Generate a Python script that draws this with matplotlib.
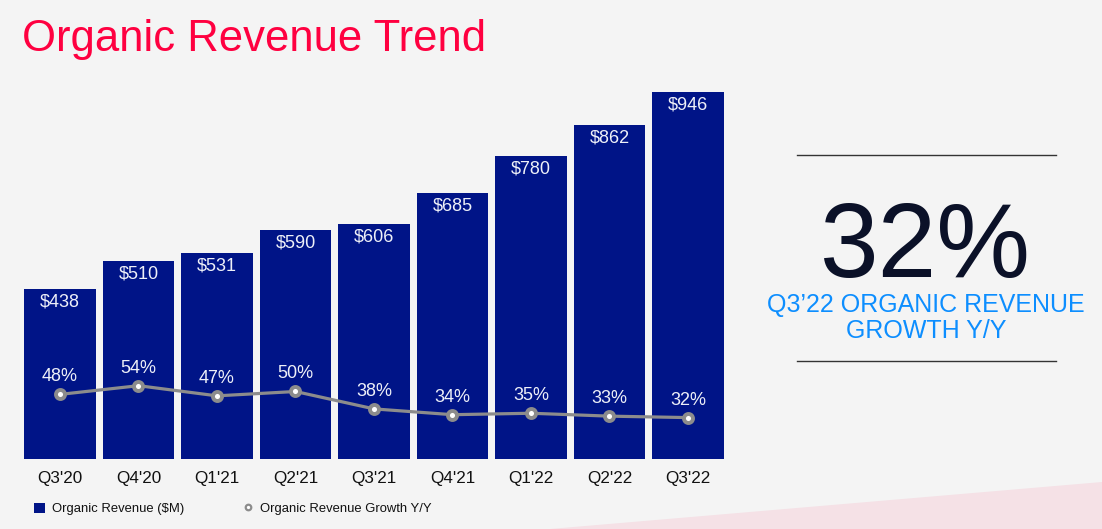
import matplotlib.pyplot as plt
from matplotlib.lines import Line2D
from matplotlib.patches import Patch, Polygon

quarters = ["Q3'20", "Q4'20", "Q1'21", "Q2'21", "Q3'21", "Q4'21", "Q1'22", "Q2'22", "Q3'22"]
revenue = [438, 510, 531, 590, 606, 685, 780, 862, 946]
growth = [48, 54, 47, 50, 38, 34, 35, 33, 32]

NAVY = "#001487"
GRAY = "#8c8c8c"
BG = "#f4f4f4"
W, H = 1102, 529

plt.rcParams["font.family"] = ["Liberation Sans", "DejaVu Sans"]

fig = plt.figure(figsize=(W / 100, H / 100), dpi=100, facecolor=BG)

# decorative pink strip bottom right
fig.patches.append(Polygon([(550 / W, 0), (1.0, (H - 482) / H), (1.0, 0)],
                           closed=True, transform=fig.transFigure,
                           facecolor="#f5e1e6", edgecolor="none", zorder=0))

ax = fig.add_axes([20.75 / W, 70 / H, 706.5 / W, 388 / H])
ax.set_facecolor("none")
x = range(len(quarters))
ax.bar(x, revenue, width=0.917, color=NAVY, zorder=2)
ax.set_xlim(-0.5, len(quarters) - 0.5)
ax.set_ylim(0, 1000)
ax.set_xticks(list(x))
ax.set_xticklabels(quarters, fontsize=12.3, color="#111111")
ax.tick_params(axis="x", length=0, pad=9)
ax.set_yticks([])
for s in ax.spines.values():
    s.set_visible(False)
for i, v in enumerate(revenue):
    ax.annotate(f"${v}", (i, v), xytext=(0, -9.4), textcoords="offset points",
                ha="center", va="center", fontsize=13, color="#eef0f8", zorder=5)

ax2 = ax.twinx()
ax2.set_ylim(3.45, 271)
ax2.plot(list(x), growth, color=GRAY, lw=2.3, marker="o", ms=6.5, mfc="white",
         mec=GRAY, mew=2.8, zorder=4)
ax2.set_yticks([])
for s in ax2.spines.values():
    s.set_visible(False)
for i, g in enumerate(growth):
    ax2.annotate(f"{g}%", (i, g), xytext=(0, 12.6), textcoords="offset points",
                 ha="center", va="center", fontsize=13, color="#eef0f8", zorder=5)

# title
fig.text(22 / W, (H - 51) / H, "Organic Revenue Trend", fontsize=31.4,
         color="#ff0040", ha="left", va="baseline")

# right panel
for yy in (155, 361):
    fig.add_artist(Line2D([797 / W, 1056 / W], [(H - yy) / H] * 2,
                          color="#333333", lw=1, transform=fig.transFigure))
fig.text(925 / W, (H - 277) / H, "32%", fontsize=76, color="#0b1128",
         ha="center", va="baseline")
fig.text(926 / W, (H - 312) / H, "Q3\u201922 ORGANIC REVENUE", fontsize=18,
         color="#0d8eff", ha="center", va="baseline")
fig.text(926 / W, (H - 338) / H, "GROWTH Y/Y", fontsize=18,
         color="#0d8eff", ha="center", va="baseline")

# legend
handles = [
    Patch(facecolor=NAVY, edgecolor="none"),
    Line2D([], [], ls="none", marker="o", ms=4, mfc="white", mec=GRAY, mew=1.6),
]
fig.legend(handles, ["Organic Revenue ($M)", "Organic Revenue Growth Y/Y"],
           loc="center left", bbox_to_anchor=(34 / W, 20 / H), ncol=2,
           frameon=False, fontsize=9.4, borderpad=0, borderaxespad=0,
           handlelength=0.85, handleheight=0.85, handletextpad=0.55,
           columnspacing=4.4, labelcolor="#111111")

fig.savefig("out.png", dpi=100, facecolor=BG)
